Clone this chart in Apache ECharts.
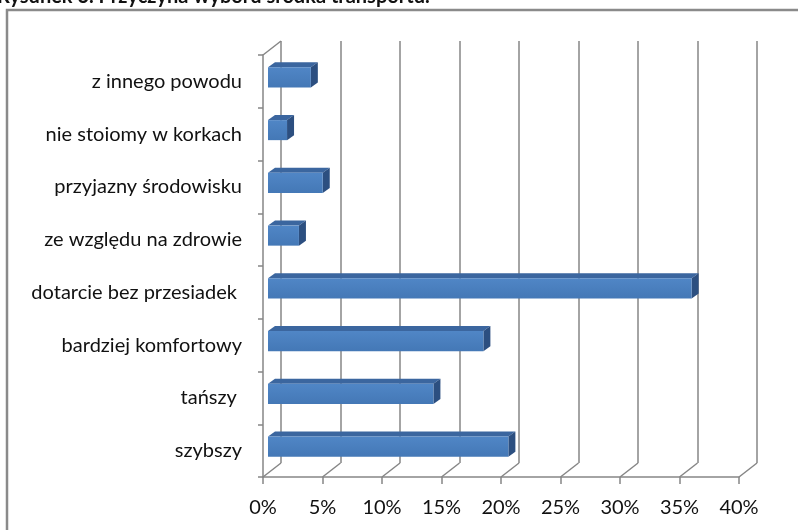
<!DOCTYPE html>
<html>
<head>
<meta charset="utf-8">
<script src="https://cdn.jsdelivr.net/npm/echarts@6/dist/echarts.min.js"></script>
<style>
  html, body { margin: 0; padding: 0; background: #fff; }
  #main { width: 798px; height: 530px; }
</style>
</head>
<body>
<div id="main"></div>
<script>
// dane z wykresu (od dołu do góry)
const categories = ['szybszy', 'tańszy ', 'bardziej komfortowy', 'dotarcie bez przesiadek ',
  'ze względu na zdrowie', 'przyjazny środowisku', 'nie stoiomy w korkach', 'z innego powodu'];
const values = [20.2, 13.9, 18.1, 35.6, 2.6, 4.6, 1.6, 3.6];
const xTicks = [0, 5, 10, 15, 20, 25, 30, 35, 40];
const titleText = 'Rysunek 3. Przyczyna wyboru środka transportu.';

const FONT = 'Lato';
const GRAY = '#868686';
const DEPTH_X = 18, DEPTH_Y = -14; // przesunięcie tylnej ściany

const chart = echarts.init(document.getElementById('main'));

// pseudo 3D słupek
function renderBar(params, api) {
    const v = api.value(0), c = api.value(1);
    const s = api.coord([0, c]);
    const e = api.coord([v, c]);
    const bh = api.size([0, 1])[1] * 0.38;
    const ox = 5, oy = -4, dx = 7, dy = -5;
    const x0 = s[0] + ox, x1 = e[0] + ox;
    const yT = s[1] + oy - bh / 2, yB = yT + bh;
    return {
        type: 'group',
        children: [
            {type: 'polygon', shape: {points: [[x0, yT], [x1, yT], [x1 + dx, yT + dy], [x0 + dx, yT + dy]]},
             style: {fill: '#3b669f'}},
            {type: 'polygon', shape: {points: [[x1, yT], [x1 + dx, yT + dy], [x1 + dx, yB + dy], [x1, yB]]},
             style: {fill: '#2c4f80'}},
            {type: 'rect', shape: {x: x0, y: yT, width: x1 - x0, height: bh},
             style: {fill: new echarts.graphic.LinearGradient(0, 0, 0, 1, [
                 {offset: 0, color: '#5086c6'}, {offset: 1, color: '#4478b6'}])}}
        ]
    };
}

// ukośne linie podłogi i lewej ściany
function renderFloor(params, api) {
    const cs = params.coordSys;
    const v = api.value(0);
    const x = api.coord([v, 0])[0];
    const bottom = cs.y + cs.height;
    const children = [{
        type: 'line',
        shape: {x1: x, y1: bottom, x2: x + DEPTH_X, y2: bottom + DEPTH_Y},
        style: {stroke: GRAY, lineWidth: 1.5}
    }];
    if (params.dataIndex === 0) {
        children.push({
            type: 'line',
            shape: {x1: cs.x, y1: cs.y, x2: cs.x + DEPTH_X, y2: cs.y + DEPTH_Y},
            style: {stroke: GRAY, lineWidth: 1.5}
        });
    }
    return {type: 'group', children: children};
}

chart.setOption({
    backgroundColor: '#fff',
    animation: false,
    graphic: [
        {type: 'rect', shape: {x: 7, y: 10, width: 800, height: 530},
         style: {fill: 'none', stroke: '#8a8a8a', lineWidth: 2.5}, z: 100},
        {type: 'text', left: -3, top: -13,
         style: {text: titleText, font: 'bold 20px ' + FONT, fill: '#111'}}
    ],
    grid: [
        {left: 263, right: 59, top: 55, bottom: 53},  // przód
        {left: 281, right: 41, top: 41, bottom: 67}   // tylna ściana
    ],
    xAxis: [
        {
            gridIndex: 0, type: 'value', min: 0, max: 40, interval: 5,
            axisLine: {show: true, lineStyle: {color: GRAY, width: 1.5}},
            axisTick: {show: true, length: 7, lineStyle: {color: GRAY, width: 1.5}},
            splitLine: {show: false},
            axisLabel: {formatter: '{value}%', margin: 21, fontSize: 20, fontFamily: FONT, color: '#111'}
        },
        {
            gridIndex: 1, type: 'value', min: 0, max: 40, interval: 5,
            axisLine: {show: false}, axisTick: {show: false}, axisLabel: {show: false},
            splitLine: {show: true, lineStyle: {color: GRAY, width: 1.5}}
        }
    ],
    yAxis: [
        {
            gridIndex: 0, type: 'category', data: categories,
            axisLine: {show: true, lineStyle: {color: GRAY, width: 1.5}},
            axisTick: {show: true, length: 5, lineStyle: {color: GRAY, width: 1.5}},
            axisLabel: {margin: 21, fontSize: 20, fontFamily: FONT, color: '#111'}
        },
        {gridIndex: 1, type: 'category', data: categories, show: false}
    ],
    series: [
        {
            type: 'custom', xAxisIndex: 0, yAxisIndex: 0, z: 1,
            renderItem: renderFloor,
            data: xTicks.map(v => [v])
        },
        {
            type: 'custom', xAxisIndex: 0, yAxisIndex: 0, z: 5,
            renderItem: renderBar,
            data: values.map((v, i) => [v, i])
        }
    ]
});
</script>
</body>
</html>
